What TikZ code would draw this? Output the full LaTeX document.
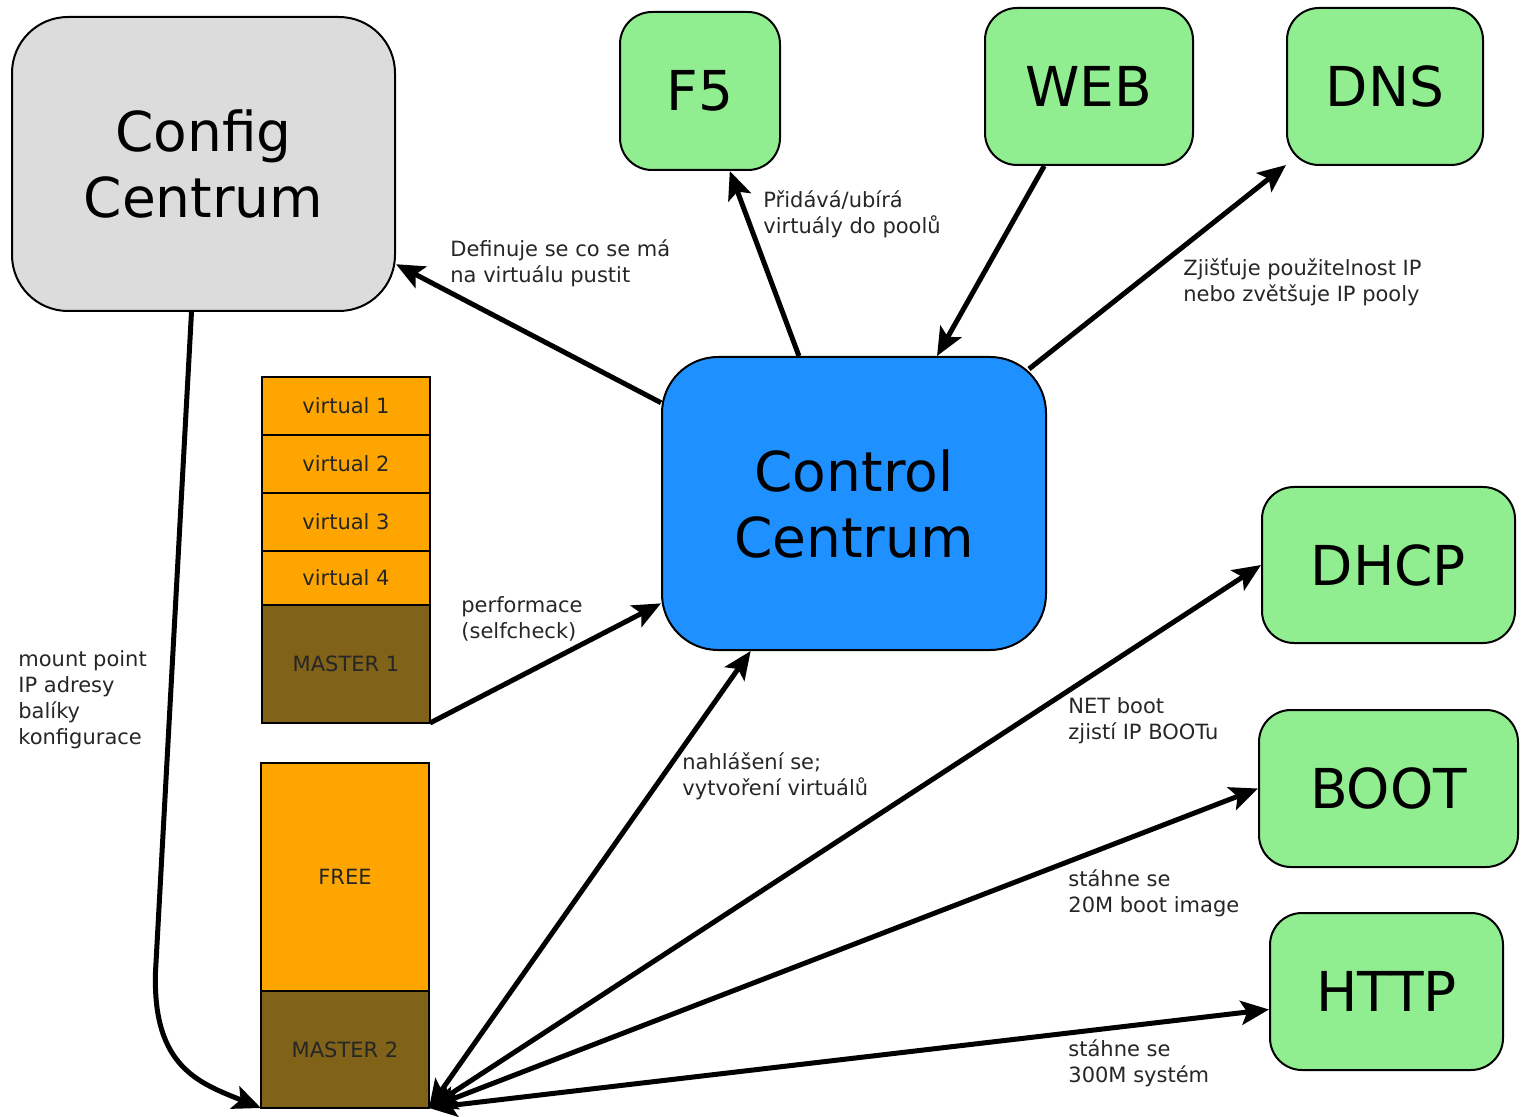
\documentclass[tikz,border=0pt]{standalone}
\usepackage{fontspec}
\setmainfont{DejaVu Sans}
\usepackage{tikz}
\usetikzlibrary{arrows.meta,positioning}
\definecolor{cfggray}{RGB}{220,220,220}
\definecolor{srvgreen}{RGB}{144,238,144}
\definecolor{ctrlblue}{RGB}{30,144,255}
\definecolor{virtorange}{RGB}{255,165,0}
\definecolor{masterbrown}{RGB}{128,98,24}
\tikzstyle{centrum} = [rectangle, rounded corners=28pt, draw=black, line width=1pt, align=center, font=\fontsize{27.5}{33}\selectfont]
\tikzstyle{server} = [rectangle, rounded corners=16pt, draw=black, line width=1pt, fill=srvgreen, minimum height=78.5pt, font=\fontsize{27.5}{33}\selectfont]
\tikzstyle{cell} = [rectangle, draw=black, line width=1pt, fill=virtorange, minimum width=84pt, inner sep=0pt, outer sep=0pt, text=black!85, font=\fontsize{10.5}{13}\selectfont]
\tikzstyle{mastercell} = [cell, fill=masterbrown]
\tikzstyle{lbl} = [anchor=west, align=left, inner sep=0pt, text=black!85, font=\fontsize{10.5}{13}\selectfont]
\tikzstyle{conn} = [line width=2.5pt]

\begin{document}
\begin{tikzpicture}[x=0.5pt, y=-0.5pt, >={Stealth[length=14pt,width=12pt,inset=3pt]}]
	\useasboundingbox (0,0) rectangle (1521,1117);
	\node[centrum, fill=cfggray, minimum width=191.5pt, minimum height=147pt] (cfg) at (203.5,164) {Config\\Centrum};
	\node[centrum, fill=ctrlblue, minimum width=192pt, minimum height=146.5pt] (ctrl) at (854,503.5) {Control\\Centrum};
	\node[server, minimum width=80pt, minimum height=79pt] (f5) at (700,91) {F5};
	\node[server, minimum width=104pt] (web) at (1089,86.5) {WEB};
	\node[server, minimum width=98pt] (dns) at (1385,86.5) {DNS};
	\node[server, minimum width=126.5pt, minimum height=78pt] (dhcp) at (1388.5,565) {DHCP};
	\node[server, minimum width=129.5pt] (boot) at (1388.5,788.5) {BOOT};
	\node[server, minimum width=116.5pt] (http) at (1386.5,991.5) {HTTP};
	
	%stack
	\node[cell, minimum height=29pt] (virt1) at (346,406) {virtual 1};
	\node[cell, minimum height=29pt, below=0pt of virt1] (virt2) {virtual 2};
	\node[cell, minimum height=29pt, below=0pt of virt2] (virt3) {virtual 3};
	\node[cell, minimum height=27pt, below=0pt of virt3] (virt4) {virtual 4};
	\node[mastercell, minimum height=59pt, below=0pt of virt4] (master1) {MASTER 1};
	\node[cell, minimum height=114pt] (free) at (345,877) {FREE};
	\node[mastercell, minimum height=58.5pt, below=0pt of free] (master2) {MASTER 2};
	
	%labels
	\node[lbl] (lcfg) at (450,263) {Definuje se co se má\\na virtuálu pustit};
	\node[lbl] (lf5) at (763,214) {Přidává/ubírá\\virtuály do poolů};
	\node[lbl] (ldns) at (1183,282) {Zjišťuje použitelnost IP\\nebo zvětšuje IP pooly};
	\node[lbl] (lperf) at (461,618.5) {performace\\(selfcheck)};
	\node[lbl] (lmount) at (18,699.5) {mount point\\IP adresy\\balíky\\konfigurace};
	\node[lbl] (lnahl) at (682,776.5) {nahlášení se;\\vytvoření virtuálů};
	\node[lbl] (lnet) at (1068,721) {NET boot\\zjistí IP BOOTu};
	\node[lbl] (lboot) at (1068,893) {stáhne se\\20M boot image};
	\node[lbl] (lhttp) at (1068,1063) {stáhne se\\300M systém};
	
	%arrow
	\draw [->, conn] (ctrl) -- (cfg);
	\draw [->, conn] (ctrl) -- (f5);
	\draw [->, conn] (web) -- (ctrl);
	\draw [->, conn] ([shift={(-9pt,-6.5pt)}]ctrl.north east) -- (dns);
	\draw [->, conn] (master1.south east) -- (ctrl);
	\draw [<->, conn] (master2.south east) -- (ctrl);
	\draw [<->, conn] (master2.south east) -- (dhcp.west);
	\draw [<->, conn] (master2.south east) -- (boot.west);
	\draw [<->, conn] (master2.south east) -- ([yshift=-9pt]http.west);
	\draw [->, conn] ([xshift=-6pt]cfg.south) -- ++(-36,660) .. controls +(-3,95) and +(-62,-25) .. (master2.south west);
	
\end{tikzpicture}
\end{document}
